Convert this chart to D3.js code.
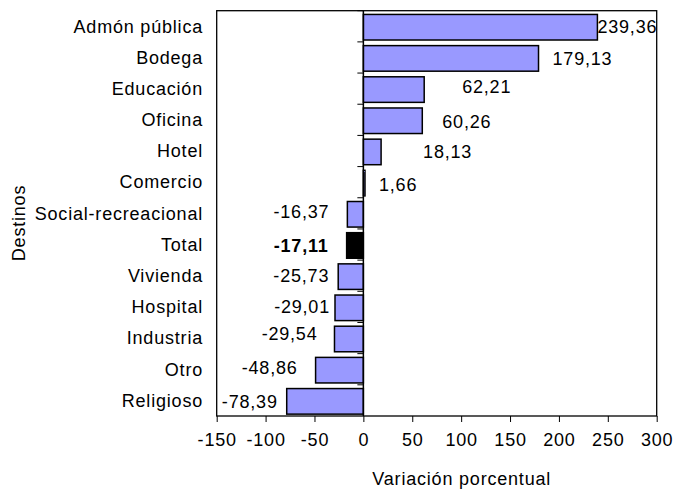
<!DOCTYPE html>
<html><head><meta charset="utf-8">
<script src="https://cdn.jsdelivr.net/npm/d3@7"></script>
<style>
body{margin:0;background:#fff;}
text{font-family:"Liberation Sans",Arial,sans-serif;font-size:18px;letter-spacing:0.8px;fill:#000;}
</style></head><body>
<svg id="c" width="674" height="493"></svg>
<script>
const categories = ["Admón pública","Bodega","Educación","Oficina","Hotel","Comercio","Social-recreacional","Total","Vivienda","Hospital","Industria","Otro","Religioso"];
const values = [239.36,179.13,62.21,60.26,18.13,1.66,-16.37,-17.11,-25.73,-29.01,-29.54,-48.86,-78.39];
const valueLabels = ["239,36","179,13","62,21","60,26","18,13","1,66","-16,37","-17,11","-25,73","-29,01","-29,54","-48,86","-78,39"];
const xTicks = [-150,-100,-50,0,50,100,150,200,250,300];
// label nudges (px) to mimic the manually placed labels
const labelDx = [0,14,38,20,42,14,-18,-18,-9,-5,-17,-18,-9];
const labelDy = [0.7,1.3,-1.9,2,0.8,3,-1.4,0.7,0,0,-4.7,-1.8,1.7];

const L=216.7,R=656.7,T=10.7,B=416;
const svg=d3.select("#c");
const x=d3.scaleLinear().domain([-150,300]).range([L,R]);
const y=d3.scaleBand().domain(categories).range([T,B]).padding(0);
const bw=y.bandwidth();

// bars
svg.append("g").selectAll("rect").data(values).join("rect")
  .attr("x",d=>x(Math.min(0,d)))
  .attr("y",(d,i)=>y(categories[i])+bw*0.12)
  .attr("width",d=>Math.abs(x(d)-x(0)))
  .attr("height",bw*0.82)
  .attr("fill",(d,i)=>categories[i]==="Total"?"#000":"#9999FF")
  .attr("stroke","#000").attr("stroke-width",1.5);

// zero axis line + ticks at band boundaries
const yAxis=d3.axisLeft(y).tickSize(6).tickFormat("");
const gy=svg.append("g").attr("transform",`translate(${x(0)},0)`).call(yAxis);
gy.select(".domain").remove();
gy.selectAll(".tick").attr("transform",d=>`translate(0,${y(d)})`);
gy.selectAll(".tick line").attr("stroke","#000").attr("stroke-width",1);
svg.append("line").attr("x1",x(0)).attr("x2",x(0)).attr("y1",T).attr("y2",B).attr("stroke","#000").attr("stroke-width",1.5);

// frame
svg.append("rect").attr("x",L).attr("y",T).attr("width",R-L).attr("height",B-T)
  .attr("fill","none").attr("stroke","#000").attr("stroke-width",1.3);

// x axis
const gx=svg.append("g").attr("transform",`translate(0,${B})`)
  .call(d3.axisBottom(x).tickValues(xTicks).tickSize(6).tickPadding(11).tickFormat(d=>d));
gx.select(".domain").remove();
gx.selectAll(".tick line").attr("stroke","#000");
gx.selectAll(".tick text").style("font-size","18px").attr("font-family",null);

// category labels
svg.append("g").selectAll("text").data(categories).join("text")
  .attr("x",203).attr("y",d=>y(d)+bw/2).attr("dy","0.35em")
  .attr("text-anchor","end").text(d=>d);

// value labels
svg.append("g").selectAll("text").data(values).join("text")
  .attr("x",(d,i)=>x(d)+labelDx[i])
  .attr("y",(d,i)=>y(categories[i])+bw/2+labelDy[i])
  .attr("dy","0.35em")
  .attr("text-anchor",d=>d>=0?"start":"end")
  .style("font-weight",(d,i)=>categories[i]==="Total"?"bold":"normal")
  .text((d,i)=>valueLabels[i]);

// titles
svg.append("text").attr("x",(L+R)/2+25).attr("y",485).attr("text-anchor","middle").text("Variación porcentual");
svg.append("text").attr("transform","translate(25,223) rotate(-90)").attr("text-anchor","middle").text("Destinos");
</script></body></html>
